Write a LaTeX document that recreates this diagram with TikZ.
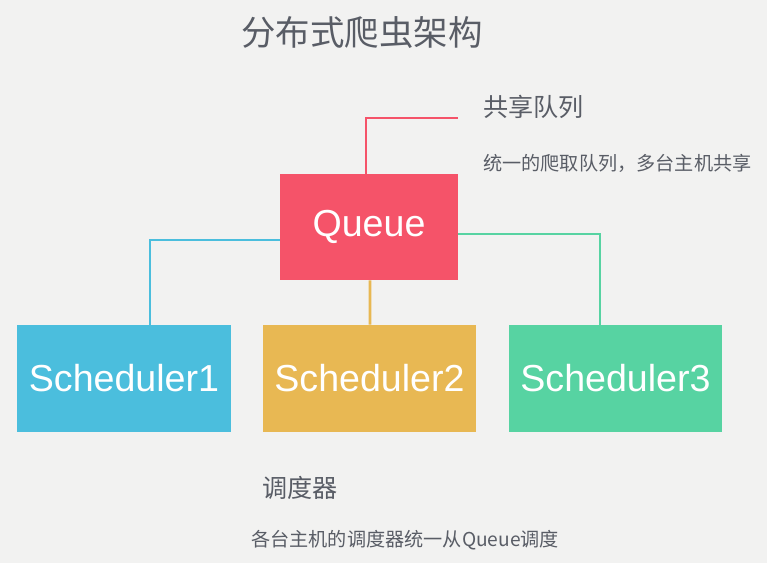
\documentclass[tikz,border=0pt]{standalone}
\usepackage{fontspec}
\setmainfont{Liberation Sans}
\newfontfamily\cjk{Noto Sans CJK SC}
\usetikzlibrary{positioning,calc}
\definecolor{hatter}{HTML}{F2F2F1}
\definecolor{szurke}{HTML}{595D66}
\definecolor{piros}{HTML}{F55369}
\definecolor{kek}{HTML}{4BBEDD}
\definecolor{sarga}{HTML}{E8B853}
\definecolor{zold}{HTML}{57D3A2}
\tikzset{
  blokk/.style={rectangle,inner sep=0pt,text=white,
    font=\fontsize{21.4}{24}\selectfont},
  vonal/.style={line width=1.6pt},
  fej/.style={anchor=west,inner sep=0pt,text=szurke,font=\cjk\fontsize{14.3}{17}\selectfont},
  megj/.style={anchor=west,inner sep=0pt,text=szurke,font=\cjk\fontsize{10.9}{13}\selectfont},
}
\begin{document}
\begin{tikzpicture}[x=0.02cm,y=-0.02cm]
  \fill[hatter] (0,0) rectangle (767,563);
  \useasboundingbox (0,0) rectangle (767,563);
  \node[text=szurke,inner sep=0pt,font=\cjk\fontsize{19.6}{23}\selectfont]
    (cim) at (362,33) {分布式爬虫架构};
  % sor
  \node[blokk,fill=piros,minimum width=3.56cm,minimum height=2.12cm] (queue) at (369,227) {Queue};
  \node[blokk,fill=kek,minimum width=4.28cm,minimum height=2.14cm] (s1) at (124,378.5) {Scheduler1};
  \node[blokk,fill=sarga,minimum width=4.28cm,minimum height=2.14cm] (s2) at (369.5,378.5) {Scheduler2};
  \node[blokk,fill=zold,minimum width=4.28cm,minimum height=2.14cm] (s3) at (615.5,378.5) {Scheduler3};
  % kapcsolatok
  \coordinate (piroszar) at (458,118);
  \draw[vonal,piros] ([xshift=-0.06cm]queue.north) |- (piroszar);
  \draw[vonal,kek] ([yshift=-0.26cm]queue.west) -| ([xshift=0.52cm]s1.north);
  \draw[vonal,sarga] ([xshift=0.02cm]queue.south) -- ([xshift=0.01cm]s2.north);
  \draw[vonal,zold] ([yshift=-0.14cm]queue.east) -| ([xshift=-0.31cm]s3.north);
  % feliratok
  \node[fej] (kozos) at (483,107) {共享队列};
  \node[megj] (kozosm) at (483,163) {统一的爬取队列，多台主机共享};
  \node[fej] (utem) at (262,488) {调度器};
  \node[megj] (utemm) at (251,540) {各台主机的调度器统一从Queue调度};
\end{tikzpicture}
\end{document}
